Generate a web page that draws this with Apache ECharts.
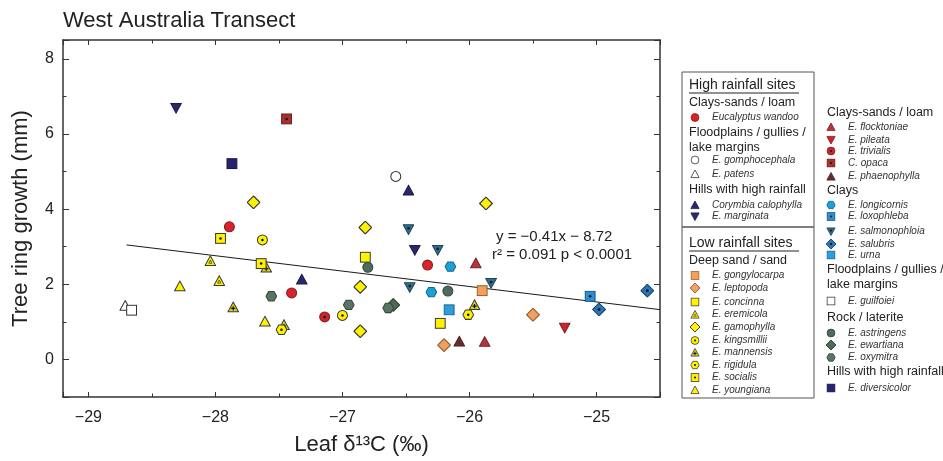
<!DOCTYPE html>
<html>
<head>
<meta charset="utf-8">
<script src="https://cdn.jsdelivr.net/npm/echarts@6/dist/echarts.min.js"></script>
<style>
  html, body { margin: 0; padding: 0; background: #fff; }
  #chart { width: 943px; height: 461px; }
</style>
</head>
<body>
<div id="chart"></div>
<script>
// Leaf δ13C (‰) vs tree ring growth (mm), one array per species
const wandoo        = [[-27.89, 3.53], [-27.40, 1.77], [-26.33, 2.51]];
const gomphocephala = [[-26.58, 4.87]];
const patens        = [[-28.71, 1.43]];
const calophylla    = [[-27.32, 2.13], [-26.48, 4.50]];
const marginata     = [[-28.31, 6.69], [-26.43, 2.91]];
const flocktoniae   = [[-25.95, 2.56], [-25.88, 0.47]];
const pileata       = [[-25.25, 0.84]];
const trivialis     = [[-27.14, 1.13]];
const opaca         = [[-27.44, 6.40]];
const phaenophylla  = [[-26.08, 0.48]];
const longicornis   = [[-26.15, 2.47], [-26.30, 1.79]];
const loxophleba    = [[-25.05, 1.68]];
const salmonophloia = [[-26.48, 3.46], [-26.25, 2.91], [-26.47, 1.92], [-25.83, 2.03]];
const salubris      = [[-24.98, 1.33], [-24.60, 1.83]];
const urna          = [[-26.16, 1.32]];
const guilfoilei    = [[-28.66, 1.31]];
const astringens    = [[-26.80, 2.45], [-26.17, 1.82]];
const ewartiana     = [[-26.60, 1.45]];
const oxymitra      = [[-27.56, 1.68], [-26.95, 1.45], [-26.64, 1.37]];
const diversicolor  = [[-27.87, 5.21]];
const gongylocarpa  = [[-25.90, 1.83]];
const leptopoda     = [[-26.20, 0.38], [-25.50, 1.19]];
const concinna      = [[-26.82, 2.72], [-26.23, 0.96]];
const eremicola     = [[-28.04, 2.62], [-27.97, 2.09]];
const gamophylla    = [[-27.70, 4.18], [-26.82, 3.51], [-25.87, 4.15], [-26.86, 1.93], [-26.86, 0.75]];
const kingsmillii   = [[-27.63, 3.18], [-27.00, 1.17]];
const mannensis     = [[-27.60, 2.45], [-27.86, 1.39], [-27.46, 0.92], [-25.96, 1.45]];
const rigidula      = [[-27.48, 0.79], [-26.01, 1.19]];
const socialis      = [[-27.96, 3.22], [-27.64, 2.55]];
const youngiana     = [[-28.28, 1.95], [-27.61, 1.01]];

// Least-squares fit shown on the plot
const fitSlope = -0.41;
const fitIntercept = -8.72;
const fitXRange = [-28.7, -24.5];

// Axis extents
const xRange = [-29.2, -24.5];
const yRange = [-1, 8.5];

// Marker glyphs drawn as small SVG images: shape, fill, outline, inner mark
function markerSvg(shape, fill, stroke, inner) {
  const shapes = {
    circle:  '<circle cx="10" cy="10" r="8.3"/>',
    square:  '<rect x="1.8" y="1.8" width="16.4" height="16.4"/>',
    up:      '<polygon points="10,1.5 18.8,17.6 1.2,17.6"/>',
    down:    '<polygon points="1.2,2.4 18.8,2.4 10,18.5"/>',
    diamond: '<polygon points="10,0.9 19.1,10 10,19.1 0.9,10"/>',
    hex:     '<polygon points="19,10 14.5,17.8 5.5,17.8 1,10 5.5,2.2 14.5,2.2"/>'
  };
  const cy = shape === 'up' ? 12 : shape === 'down' ? 8 : 10;
  let mark = '';
  if (inner === 'dot') {
    mark = '<circle cx="10" cy="' + cy + '" r="2.1" fill="#111"/>';
  } else if (inner === 'plus') {
    mark = '<path d="M10 ' + (cy - 3.5) + 'V' + (cy + 3.5) + 'M6.5 ' + cy + 'H13.5" stroke="#111" stroke-width="2"/>';
  } else if (inner === 'tri') {
    mark = '<polygon points="10,8.5 12.6,13.8 7.4,13.8" fill="none" stroke="#333" stroke-width="1.2"/>';
  }
  const svg = '<svg xmlns="http://www.w3.org/2000/svg" width="20" height="20" viewBox="0 0 20 20">' +
    '<g fill="' + fill + '" stroke="' + stroke + '" stroke-width="1.7">' + shapes[shape] + '</g>' + mark + '</svg>';
  return 'data:image/svg+xml;charset=utf-8,' + encodeURIComponent(svg);
}

const OUT = '#3a3a3a';
const species = {
  wandoo:        { label: 'Eucalyptus wandoo',   data: wandoo,        shape: 'circle',  fill: '#d8232a', stroke: '#8a1a1a' },
  gomphocephala: { label: 'E. gomphocephala',    data: gomphocephala, shape: 'circle',  fill: '#ffffff', stroke: '#333333' },
  patens:        { label: 'E. patens',           data: patens,        shape: 'up',      fill: '#ffffff', stroke: '#333333' },
  calophylla:    { label: 'Corymbia calophylla', data: calophylla,    shape: 'up',      fill: '#29286b', stroke: '#1c1b4c' },
  marginata:     { label: 'E. marginata',        data: marginata,     shape: 'down',    fill: '#29286b', stroke: '#1c1b4c' },
  flocktoniae:   { label: 'E. flocktoniae',      data: flocktoniae,   shape: 'up',      fill: '#b4353b', stroke: '#7a2226' },
  pileata:       { label: 'E. pileata',          data: pileata,       shape: 'down',    fill: '#c8262e', stroke: '#8a1a1e' },
  trivialis:     { label: 'E. trivialis',        data: trivialis,     shape: 'circle',  fill: '#c8262e', stroke: '#8a1a1e', inner: 'dot' },
  opaca:         { label: 'C. opaca',            data: opaca,         shape: 'square',  fill: '#a8302c', stroke: '#6e1e1c', inner: 'dot' },
  phaenophylla:  { label: 'E. phaenophylla',     data: phaenophylla,  shape: 'up',      fill: '#7c2c2c', stroke: '#4a1a1a', inner: 'tri' },
  longicornis:   { label: 'E. longicornis',      data: longicornis,   shape: 'hex',     fill: '#1ba0d8', stroke: '#13668c' },
  loxophleba:    { label: 'E. loxophleba',       data: loxophleba,    shape: 'square',  fill: '#2b8fcf', stroke: '#1b5a82', inner: 'dot' },
  salmonophloia: { label: 'E. salmonophloia',    data: salmonophloia, shape: 'down',    fill: '#2f6e8e', stroke: '#1d4558', inner: 'dot' },
  salubris:      { label: 'E. salubris',         data: salubris,      shape: 'diamond', fill: '#2a78b8', stroke: '#1a4a72', inner: 'dot' },
  urna:          { label: 'E. urna',             data: urna,          shape: 'square',  fill: '#2c9ee0', stroke: '#1a6590' },
  guilfoilei:    { label: 'E. guilfoiei',        data: guilfoilei,    shape: 'square',  fill: '#ffffff', stroke: '#333333' },
  astringens:    { label: 'E. astringens',       data: astringens,    shape: 'circle',  fill: '#4e6b5f', stroke: '#2f433b' },
  ewartiana:     { label: 'E. ewartiana',        data: ewartiana,     shape: 'diamond', fill: '#4d6b56', stroke: '#2f4335' },
  oxymitra:      { label: 'E. oxymitra',         data: oxymitra,      shape: 'hex',     fill: '#587564', stroke: '#34463b' },
  diversicolor:  { label: 'E. diversicolor',     data: diversicolor,  shape: 'square',  fill: '#262370', stroke: '#181648' },
  gongylocarpa:  { label: 'E. gongylocarpa',     data: gongylocarpa,  shape: 'square',  fill: '#f2a05a', stroke: '#9a6030' },
  leptopoda:     { label: 'E. leptopoda',        data: leptopoda,     shape: 'diamond', fill: '#f0a060', stroke: '#9a6030' },
  concinna:      { label: 'E. concinna',         data: concinna,      shape: 'square',  fill: '#fff200', stroke: OUT },
  eremicola:     { label: 'E. eremicola',        data: eremicola,     shape: 'up',      fill: '#fff200', stroke: OUT, inner: 'tri' },
  gamophylla:    { label: 'E. gamophylla',       data: gamophylla,    shape: 'diamond', fill: '#fff200', stroke: OUT },
  kingsmillii:   { label: 'E. kingsmillii',      data: kingsmillii,   shape: 'circle',  fill: '#fff200', stroke: OUT, inner: 'dot' },
  mannensis:     { label: 'E. mannensis',        data: mannensis,     shape: 'up',      fill: '#d8d020', stroke: OUT, inner: 'plus' },
  rigidula:      { label: 'E. rigidula',         data: rigidula,      shape: 'hex',     fill: '#fff200', stroke: OUT, inner: 'dot' },
  socialis:      { label: 'E. socialis',         data: socialis,      shape: 'square',  fill: '#fff200', stroke: OUT, inner: 'dot' },
  youngiana:     { label: 'E. youngiana',        data: youngiana,     shape: 'up',      fill: '#fff200', stroke: OUT }
};

Object.values(species).forEach(s => { s.uri = markerSvg(s.shape, s.fill, s.stroke, s.inner); });

const FONT = '"Liberation Sans", Arial, Helvetica, sans-serif';

// Legend block: headings, sub-headings and species rows
const legendRows = [
  ['head', 'High rainfall sites', 689, 85],
  ['sub', 'Clays-sands / loam', 689, 103],
  ['item', 'wandoo', 695, 117.5],
  ['sub', 'Floodplains / gullies /', 689, 132.5],
  ['sub', 'lake margins', 689, 148],
  ['item', 'gomphocephala', 695, 160],
  ['item', 'patens', 695, 174],
  ['sub', 'Hills with high rainfall', 689, 189.5],
  ['item', 'calophylla', 695, 205],
  ['item', 'marginata', 695, 216.5],
  ['head', 'Low rainfall sites', 689, 243],
  ['sub', 'Deep sand / sand', 689, 261],
  ['item', 'gongylocarpa', 695, 275.5],
  ['item', 'leptopoda', 695, 288],
  ['item', 'concinna', 695, 302],
  ['item', 'eremicola', 695, 314.5],
  ['item', 'gamophylla', 695, 327],
  ['item', 'kingsmillii', 695, 340.5],
  ['item', 'mannensis', 695, 352.5],
  ['item', 'rigidula', 695, 365],
  ['item', 'socialis', 695, 377.5],
  ['item', 'youngiana', 695, 390],
  ['sub', 'Clays-sands / loam', 827, 113],
  ['item', 'flocktoniae', 831, 127],
  ['item', 'pileata', 831, 140],
  ['item', 'trivialis', 831, 151],
  ['item', 'opaca', 831, 163],
  ['item', 'phaenophylla', 831, 176.5],
  ['sub', 'Clays', 827, 191],
  ['item', 'longicornis', 831, 205],
  ['item', 'loxophleba', 831, 216.5],
  ['item', 'salmonophloia', 831, 231.5],
  ['item', 'salubris', 831, 244],
  ['item', 'urna', 831, 255],
  ['sub', 'Floodplains / gullies /', 827, 269.5],
  ['sub', 'lake margins', 827, 284.5],
  ['item', 'guilfoilei', 831, 301],
  ['sub', 'Rock / laterite', 827, 317.5],
  ['item', 'astringens', 831, 333],
  ['item', 'ewartiana', 831, 345],
  ['item', 'oxymitra', 831, 357.5],
  ['sub', 'Hills with high rainfall', 827, 371.5],
  ['item', 'diversicolor', 831, 388]
];

const graphics = [
  { type: 'rect', shape: { x: 682, y: 72, width: 132, height: 155 },
    style: { fill: 'none', stroke: '#555', lineWidth: 1 }, z: 10 },
  { type: 'rect', shape: { x: 682, y: 227, width: 132, height: 171 },
    style: { fill: 'none', stroke: '#555', lineWidth: 1 }, z: 10 }
];

legendRows.forEach(([kind, val, x, y]) => {
  if (kind === 'item') {
    const s = species[val];
    const sz = s.shape === 'diamond' ? 11 : 9.5;
    graphics.push({ type: 'image', z: 11,
      style: { image: s.uri, x: x - sz / 2, y: y - sz / 2, width: sz, height: sz } });
    graphics.push({ type: 'text', z: 11,
      style: { text: s.label, x: x + 17, y: y, verticalAlign: 'middle', align: 'left',
               font: 'italic 10px ' + FONT, fill: '#333' } });
  } else {
    const size = kind === 'head' ? 14 : 12.5;
    graphics.push({ type: 'text', z: 11,
      style: { text: val, x: x, y: y, verticalAlign: 'middle', align: 'left',
               font: size + 'px ' + FONT, fill: '#222' } });
    if (kind === 'head') {
      graphics.push({ type: 'line', z: 11,
        shape: { x1: x, y1: y + 8, x2: x + 110, y2: y + 8 },
        style: { stroke: '#222', lineWidth: 1 } });
    }
  }
});

// Fit statistics
graphics.push({ type: 'text', z: 12,
  style: { text: 'y = \u22120.41x \u2212 8.72', x: 496, y: 237, verticalAlign: 'middle',
           font: '15px ' + FONT, fill: '#222' } });
graphics.push({ type: 'text', z: 12,
  style: { text: 'r\u00b2 = 0.091 p < 0.0001', x: 492, y: 255, verticalAlign: 'middle',
           font: '15px ' + FONT, fill: '#222' } });

const fitLine = fitXRange.map(x => [x, fitSlope * x + fitIntercept]);

const axisLineStyle = { color: '#333', width: 1.5 };

const xBase = {
  type: 'value', min: xRange[0], max: xRange[1], splitNumber: 5,
  axisLine: { show: true, onZero: false, lineStyle: axisLineStyle },
  axisTick: { show: true, inside: true, length: 5, lineStyle: { color: '#333', width: 1 } },
  minorTick: { show: true, splitNumber: 2, length: 3.5, lineStyle: { color: '#333', width: 1 } },
  splitLine: { show: false }, minorSplitLine: { show: false }
};
const yBase = {
  type: 'value', min: yRange[0], max: yRange[1], splitNumber: 5,
  axisLine: { show: true, onZero: false, lineStyle: axisLineStyle },
  axisTick: { show: true, inside: true, length: 6, lineStyle: { color: '#333', width: 1 } },
  minorTick: { show: true, splitNumber: 2, length: 3.5, lineStyle: { color: '#333', width: 1 } },
  splitLine: { show: false }, minorSplitLine: { show: false }
};

const isWhole = v => Math.abs(v - Math.round(v)) < 1e-9;

const option = {
  animation: false,
  backgroundColor: '#fff',
  title: {
    text: 'West Australia Transect', left: 58, top: 5,
    textStyle: { fontFamily: FONT, fontSize: 22, fontWeight: 'normal', color: '#222' }
  },
  grid: { left: 63, top: 40, right: 283, bottom: 62, containLabel: false },
  xAxis: [
    Object.assign({}, xBase, {
      position: 'bottom',
      name: 'Leaf \u03b4\u00b9\u00b3C (\u2030)',
      nameLocation: 'middle', nameGap: 37,
      nameTextStyle: { fontFamily: FONT, fontSize: 22, color: '#222' },
      axisLabel: {
        margin: 13, fontFamily: FONT, fontSize: 16, color: '#222',
        formatter: v => isWhole(v) ? (v < 0 ? '\u2212' + Math.abs(v) : String(v)) : ''
      }
    }),
    Object.assign({}, xBase, { position: 'top', axisLabel: { show: false } })
  ],
  yAxis: [
    Object.assign({}, yBase, {
      position: 'left',
      name: 'Tree ring growth (mm)',
      nameLocation: 'middle', nameGap: 31, nameRotate: 90,
      nameTextStyle: { fontFamily: FONT, fontSize: 22, color: '#222' },
      axisLabel: {
        margin: 9, fontFamily: FONT, fontSize: 16, color: '#222',
        formatter: v => (isWhole(v) && Math.round(v) % 2 === 0) ? String(v) : ''
      }
    }),
    Object.assign({}, yBase, { position: 'right', axisLabel: { show: false } })
  ],
  graphic: graphics,
  series: [
    {
      type: 'line', name: 'fit', data: fitLine, showSymbol: false, silent: true,
      lineStyle: { color: '#1a1a1a', width: 1 }, z: 1
    }
  ].concat(Object.keys(species).map(key => {
    const s = species[key];
    return {
      type: 'scatter', name: s.label, data: s.data,
      symbol: 'image://' + s.uri,
      symbolSize: s.shape === 'diamond' ? 14 : 12,
      itemStyle: { opacity: 1 },
      z: 3
    };
  }))
};

const chart = echarts.init(document.getElementById('chart'), null, { renderer: 'canvas' });
chart.setOption(option);
</script>
</body>
</html>
